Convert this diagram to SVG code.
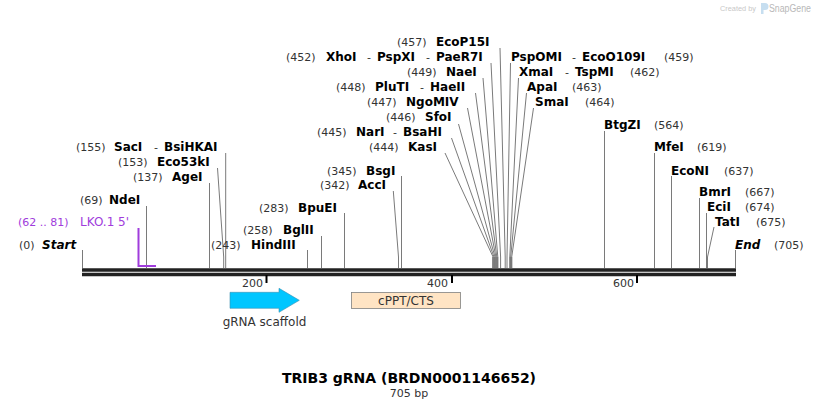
<svg xmlns="http://www.w3.org/2000/svg" width="818" height="408" viewBox="0 0 818 408">
<style>
text{font-family:"DejaVu Sans","Verdana",sans-serif;}
.n{font-size:11px;fill:#333;}
.b{font-size:12px;font-weight:bold;fill:#000;}
.bi{font-size:12px;font-weight:bold;font-style:italic;fill:#000;}
.cut{stroke:#7a7a7a;stroke-width:1;fill:none;}
.bb{stroke:#222;stroke-width:3.3;}
.tick{stroke:#000;stroke-width:2;}
.p{fill:#a03cdc;font-size:11px;}
.wm{font-family:"Liberation Sans",Arial,sans-serif;}
</style>
<rect width="818" height="408" fill="#fff"/>
<g id="watermark">
<text class="wm" x="720" y="11" textLength="36" lengthAdjust="spacingAndGlyphs" style="font-size:8px;fill:#c8c8c8">Created by</text>
<path d="M761 3h4a3.5 3.5 0 0 1 0 7h-1.5v4h-2.5z" fill="#c6def0"/>
<text class="wm" x="769" y="12" textLength="42" lengthAdjust="spacingAndGlyphs" style="font-size:10px;fill:#b8b8b8">SnapGene</text>
</g>
<g id="backbone">
<line class="bb" x1="82" y1="270" x2="736" y2="270"/>
<line class="bb" x1="82" y1="274.5" x2="736" y2="274.5"/>
<line class="tick" x1="266.5" y1="275" x2="266.5" y2="283"/>
<line class="tick" x1="452" y1="275" x2="452" y2="283"/>
<line class="tick" x1="637" y1="275" x2="637" y2="283"/>
<text class="n" x="263" y="287" text-anchor="end">200</text>
<text class="n" x="448" y="287" text-anchor="end">400</text>
<text class="n" x="634" y="287" text-anchor="end">600</text>
</g>
<g id="connectors">
<line class="cut" x1="82.5" y1="250" x2="82.5" y2="268"/>
<line class="cut" x1="146.5" y1="206" x2="146.5" y2="268"/>
<line class="cut" x1="209.5" y1="183" x2="209.5" y2="268"/>
<polyline class="cut" points="217.5,168 223.7,257 223.7,268"/>
<line class="cut" x1="225.7" y1="153" x2="225.7" y2="268"/>
<line class="cut" x1="307.5" y1="250" x2="307.5" y2="268"/>
<line class="cut" x1="321.5" y1="236" x2="321.5" y2="268"/>
<line class="cut" x1="344.5" y1="213" x2="344.5" y2="268"/>
<polyline class="cut" points="393.3,191 398.5,257 398.5,268"/>
<line class="cut" x1="401.5" y1="176" x2="401.5" y2="268"/>
<polyline class="cut" points="445,153 493.1,257 493.1,268"/>
<polyline class="cut" points="451.5,138 494,257 494,268"/>
<polyline class="cut" points="458.5,124 495,257 495,268"/>
<polyline class="cut" points="467.5,108 495.9,257 495.9,268"/>
<polyline class="cut" points="475.5,93 496.8,257 496.8,268"/>
<polyline class="cut" points="483,78 497.8,257 497.8,268"/>
<polyline class="cut" points="491,63 500.6,257 500.6,268"/>
<polyline class="cut" points="500,48 505.2,257 505.2,268"/>
<polyline class="cut" points="510.5,63 507,257 507,268"/>
<polyline class="cut" points="518.5,78 509.8,257 509.8,268"/>
<polyline class="cut" points="526.5,93 510.7,257 510.7,268"/>
<polyline class="cut" points="533.5,108 511.7,257 511.7,268"/>
<g stroke="#7a7a7a" stroke-width="1.6">
<line x1="493" y1="257" x2="493" y2="268"/><line x1="494.5" y1="257" x2="494.5" y2="268"/><line x1="496" y1="257" x2="496" y2="268"/><line x1="497.4" y1="257" x2="497.4" y2="268"/>
<line x1="510.4" y1="257" x2="510.4" y2="268"/><line x1="511.4" y1="257" x2="511.4" y2="268"/>
</g>
<line class="cut" x1="604.5" y1="131" x2="604.5" y2="268"/>
<line class="cut" x1="654.5" y1="153" x2="654.5" y2="268"/>
<line class="cut" x1="671.5" y1="176" x2="671.5" y2="268"/>
<line class="cut" x1="699.5" y1="198" x2="699.5" y2="268"/>
<line class="cut" x1="706.5" y1="213" x2="706.5" y2="268"/>
<polyline class="cut" points="714,227 707.5,257 707.5,268"/>
<line class="cut" x1="735.5" y1="250" x2="735.5" y2="268"/>
<polyline points="138.5,228 138.5,266 156,266" fill="none" stroke="#a03cdc" stroke-width="2"/>
</g>
<g id="n-start"><text class="n" x="19" y="249">(0)</text><text class="bi" x="42" y="249">Start</text></g>
<g id="n-lko"><text class="p" x="18" y="226">(62 .. 81)</text><text class="p" x="80" y="226" style="font-size:12px">LKO.1 5'</text></g>
<g id="n-ndei"><text class="n" x="80" y="204">(69)</text><text class="b" x="109" y="204">NdeI</text></g>
<g id="n-agei"><text class="n" x="133" y="181">(137)</text><text class="b" x="172" y="181">AgeI</text></g>
<g id="n-eco53ki"><text class="n" x="118" y="166">(153)</text><text class="b" x="157" y="166">Eco53kI</text></g>
<g id="n-saci"><text class="n" x="76" y="151">(155)</text><text class="b" x="114" y="151">SacI</text><text class="n" x="154" y="151">-</text><text class="b" x="164" y="151">BsiHKAI</text></g>
<g id="n-hindiii"><text class="n" x="211" y="249">(243)</text><text class="b" x="251" y="249">HindIII</text></g>
<g id="n-bglii"><text class="n" x="243" y="234">(258)</text><text class="b" x="283" y="234">BglII</text></g>
<g id="n-bpuei"><text class="n" x="259" y="212">(283)</text><text class="b" x="298" y="212">BpuEI</text></g>
<g id="n-acci"><text class="n" x="320" y="189">(342)</text><text class="b" x="358" y="189">AccI</text></g>
<g id="n-bsgi"><text class="n" x="327" y="175">(345)</text><text class="b" x="366" y="175">BsgI</text></g>
<g id="n-kasi"><text class="n" x="369" y="151">(444)</text><text class="b" x="408" y="151">KasI</text></g>
<g id="n-nari"><text class="n" x="317" y="136">(445)</text><text class="b" x="356" y="136">NarI</text><text class="n" x="393" y="136">-</text><text class="b" x="403" y="136">BsaHI</text></g>
<g id="n-sfoi"><text class="n" x="386" y="121">(446)</text><text class="b" x="425" y="121">SfoI</text></g>
<g id="n-ngomiv"><text class="n" x="367" y="106">(447)</text><text class="b" x="406" y="106">NgoMIV</text></g>
<g id="n-pluti"><text class="n" x="336" y="91">(448)</text><text class="b" x="375" y="91">PluTI</text><text class="n" x="420" y="91">-</text><text class="b" x="430" y="91">HaeII</text></g>
<g id="n-naei"><text class="n" x="407" y="76">(449)</text><text class="b" x="446" y="76">NaeI</text></g>
<g id="n-xhoi"><text class="n" x="286" y="61">(452)</text><text class="b" x="326" y="61">XhoI</text><text class="n" x="367" y="61">-</text><text class="b" x="377" y="61">PspXI</text><text class="n" x="426" y="61">-</text><text class="b" x="436" y="61">PaeR7I</text></g>
<g id="n-ecop15i"><text class="n" x="397" y="46">(457)</text><text class="b" x="436" y="46">EcoP15I</text></g>
<g id="n-pspomi"><text class="b" x="511" y="61">PspOMI</text><text class="n" x="572" y="61">-</text><text class="b" x="582" y="61">EcoO109I</text><text class="n" x="664" y="61">(459)</text></g>
<g id="n-xmai"><text class="b" x="519" y="76">XmaI</text><text class="n" x="565" y="76">-</text><text class="b" x="575" y="76">TspMI</text><text class="n" x="630" y="76">(462)</text></g>
<g id="n-apai"><text class="b" x="527" y="91">ApaI</text><text class="n" x="572" y="91">(463)</text></g>
<g id="n-smai"><text class="b" x="535" y="106">SmaI</text><text class="n" x="585" y="106">(464)</text></g>
<g id="n-btgzi"><text class="b" x="604" y="129">BtgZI</text><text class="n" x="654" y="129">(564)</text></g>
<g id="n-mfei"><text class="b" x="654" y="151">MfeI</text><text class="n" x="697" y="151">(619)</text></g>
<g id="n-econi"><text class="b" x="671" y="175">EcoNI</text><text class="n" x="724" y="175">(637)</text></g>
<g id="n-bmri"><text class="b" x="699" y="196">BmrI</text><text class="n" x="745" y="196">(667)</text></g>
<g id="n-ecii"><text class="b" x="707" y="211">EciI</text><text class="n" x="745" y="211">(674)</text></g>
<g id="n-tati"><text class="b" x="715" y="226">TatI</text><text class="n" x="756" y="226">(675)</text></g>
<g id="n-end"><text class="bi" x="735" y="249">End</text><text class="n" x="774" y="249">(705)</text></g>
<g id="f-grna">
<path d="M230 292.3H279V288.3L299.3 300.3L279 312.3V308.3H230Z" fill="#00c6ff" stroke="#3a8fb0" stroke-width="0.6"/>
<text class="n" x="264.5" y="326" text-anchor="middle" style="font-size:12px">gRNA scaffold</text>
</g>
<g id="f-cppt">
<rect x="351.5" y="292.5" width="109" height="16" fill="#ffe4c4" stroke="#808080" stroke-width="0.8"/>
<text class="n" x="406" y="305" text-anchor="middle" style="font-size:12px">cPPT/CTS</text>
</g>
<g id="title">
<text x="409" y="383" text-anchor="middle" style="font-size:14px;font-weight:bold">TRIB3 gRNA (BRDN0001146652)</text>
<text class="n" x="409" y="397" text-anchor="middle">705 bp</text>
</g>
</svg>
